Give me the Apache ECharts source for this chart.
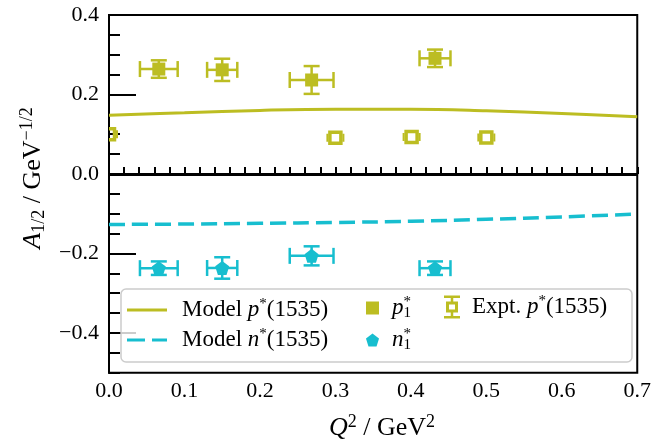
<!DOCTYPE html>
<html><head><meta charset="utf-8">
<script src="https://cdn.jsdelivr.net/npm/echarts@6/dist/echarts.min.js"></script>
<style>html,body{margin:0;padding:0;background:#fff}#c{width:654px;height:445px}</style>
</head><body><div id="c"></div>
<script>
// ---- data ----
const xTickLabels = [0, 0.1, 0.2, 0.3, 0.4, 0.5, 0.6, 0.7];
const yTickLabels = [-0.4, -0.2, 0, 0.2, 0.4];
const modelX = [0, 0.1, 0.2, 0.3, 0.4, 0.5, 0.6, 0.7];
const modelP = [0.148, 0.154, 0.160, 0.163, 0.163, 0.159, 0.152, 0.144];
const modelN = [-0.127, -0.126, -0.124, -0.122, -0.119, -0.114, -0.108, -0.101];
const p1X = [0.066, 0.150, 0.2685, 0.432];
const p1Y = [0.264, 0.262, 0.2365, 0.291];
const p1XErr = [0.025, 0.020, 0.029, 0.0205];
const p1YErr = [0.022, 0.028, 0.035, 0.022];
const n1X = [0.066, 0.150, 0.2685, 0.432];
const n1Y = [-0.237, -0.2365, -0.206, -0.237];
const n1XErr = [0.025, 0.020, 0.029, 0.0205];
const n1YErr = [0.017, 0.027, 0.024, 0.017];
const exptX = [0, 0.300, 0.401, 0.500];
const exptY = [0.100, 0.091, 0.093, 0.092];

// ---- styling ----
const OLIVE = '#bcbd22', CYAN = '#17becf';
const FONT = 'Liberation Serif';
const FS = 22;
const rich = {
  t: {fontFamily: FONT, fontSize: 23, color: '#000', lineHeight: 26},
  i: {fontFamily: FONT, fontSize: 23, fontStyle: 'italic', color: '#000', lineHeight: 26},
  sup: {fontFamily: FONT, fontSize: 15, color: '#000', verticalAlign: 'top', lineHeight: 15},
  supz: {fontFamily: FONT, fontSize: 15, color: '#000', verticalAlign: 'top', lineHeight: 15, width: 0},
  sub: {fontFamily: FONT, fontSize: 15, color: '#000', verticalAlign: 'bottom', lineHeight: 15}
};
const richTitle = {
  t: {fontFamily: FONT, fontSize: 26, color: '#000', lineHeight: 30},
  i: {fontFamily: FONT, fontSize: 26, fontStyle: 'italic', color: '#000', lineHeight: 30},
  sup: {fontFamily: FONT, fontSize: 18, color: '#000', verticalAlign: 'top', lineHeight: 16},
  sub: {fontFamily: FONT, fontSize: 18, color: '#000', verticalAlign: 'bottom', lineHeight: 18}
};
const legendText = {
  mp: '{t|Model }{i|p}{sup|*}{t|(1535)}',
  mn: '{t|Model }{i|n}{sup|*}{t|(1535)}',
  p1: '{i|p}{supz|*}{sub|1}',
  n1: '{i|n}{supz|*}{sub|1}',
  ex: '{t|Expt. }{i|p}{sup|*}{t|(1535)}'
};
const fmtTick = v => {
  const s = Math.abs(v).toFixed(1);
  return v < -1e-9 ? '\u2212' + s : s;
};
const xMinor = [];
for (let k = 0; k <= 35; k++) xMinor.push(+(k * 0.02).toFixed(2));
const yMinor = [];
for (let k = -10; k <= 8; k++) yMinor.push(+(k * 0.05).toFixed(2));

function zip(a, b, c, d) { return a.map((v, i) => c ? [v, b[i], c[i], d[i]] : [v, b[i]]); }

function errRender(color) {
  return function (params, api) {
    const x = api.value(0), y = api.value(1), xe = api.value(2), ye = api.value(3);
    const c = api.coord([x, y]);
    const l = api.coord([x - xe, y]), r = api.coord([x + xe, y]);
    const t = api.coord([x, y + ye]), b = api.coord([x, y - ye]);
    const cap = 8;
    const st = {stroke: color, lineWidth: 2.5, fill: null};
    return {type: 'group', children: [
      {type: 'line', shape: {x1: l[0], y1: c[1], x2: r[0], y2: c[1]}, style: st},
      {type: 'line', shape: {x1: l[0], y1: c[1] - cap, x2: l[0], y2: c[1] + cap}, style: st},
      {type: 'line', shape: {x1: r[0], y1: c[1] - cap, x2: r[0], y2: c[1] + cap}, style: st},
      {type: 'line', shape: {x1: c[0], y1: t[1], x2: c[0], y2: b[1]}, style: st},
      {type: 'line', shape: {x1: c[0] - cap, y1: t[1], x2: c[0] + cap, y2: t[1]}, style: st},
      {type: 'line', shape: {x1: c[0] - cap, y1: b[1], x2: c[0] + cap, y2: b[1]}, style: st}
    ]};
  };
}
function exptRender(params, api) {
  const c = api.coord([api.value(0), api.value(1)]);
  const s = 11;
  const st = {stroke: OLIVE, lineWidth: 2, fill: null};
  return {type: 'group', children: [
    {type: 'rect', shape: {x: c[0] - s / 2, y: c[1] - s / 2, width: s, height: s},
     style: {stroke: OLIVE, lineWidth: 3.5, fill: null}},
    {type: 'line', shape: {x1: c[0] - s / 2 - 2.5, y1: c[1] - 4, x2: c[0] - s / 2 - 2.5, y2: c[1] + 4}, style: st},
    {type: 'line', shape: {x1: c[0] + s / 2 + 2.5, y1: c[1] - 4, x2: c[0] + s / 2 + 2.5, y2: c[1] + 4}, style: st}
  ]};
}

const PENT = 'path://M50,0 L100,38 L81,100 L19,100 L0,38 Z';
const EXPT_ICON = 'path://M0,0H16V2.5H0Z M6.75,2.5H9.25V6H6.75Z M2,6H14V17H2Z M5,9V14H11V9Z M6.75,17H9.25V20.5H6.75Z M0,20.5H16V23H0Z';

function mkLegend(name, left, top, icon, w, h, pad) {
  return {
    left: left, top: top, padding: 0, orient: 'vertical', selectedMode: false,
    itemWidth: w, itemHeight: h,
    itemStyle: {borderWidth: 0, opacity: 1},
    data: [{name: name, icon: icon}],
    formatter: n => legendText[n],
    textStyle: {rich: rich, padding: [0, 0, 0, pad]}
  };
}

const chart = echarts.init(document.getElementById('c'));
chart.setOption({
  animation: false,
  grid: {left: 109, right: 15.5, top: 15, bottom: 72.3, show: true, borderColor: '#000', borderWidth: 2, containLabel: false},
  xAxis: [{
    type: 'value', min: 0, max: 0.7,
    axisLine: {show: true, lineStyle: {color: '#000', width: 2}},
    axisTick: {show: true, inside: true, length: 7, customValues: xMinor, lineStyle: {color: '#000', width: 2}},
    axisLabel: {customValues: xTickLabels, formatter: fmtTick, margin: 8, fontFamily: FONT, fontSize: FS, color: '#000'},
    splitLine: {show: false}
  }],
  yAxis: [{
    type: 'value', min: -0.5, max: 0.4,
    axisLine: {show: true, lineStyle: {color: '#000', width: 2}},
    axisTick: {show: true, inside: true, length: 27, customValues: yTickLabels, lineStyle: {color: '#000', width: 2}},
    axisLabel: {customValues: yTickLabels, formatter: fmtTick, margin: 10, fontFamily: FONT, fontSize: FS, color: '#000'},
    splitLine: {show: false}
  }, {
    type: 'value', min: -0.5, max: 0.4, position: 'left', offset: 0,
    axisLine: {show: false},
    axisTick: {show: true, inside: true, length: 11, customValues: yMinor, lineStyle: {color: '#000', width: 2}},
    axisLabel: {show: false},
    splitLine: {show: false}
  }],
  legend: [
    mkLegend('mp', 127, 297, 'path://M0,0H40V3H0Z', 40, 3, 10),
    mkLegend('mn', 127, 327, 'path://M0,0H18V3H0Z M25,0H40V3H25Z', 40, 3, 10),
    mkLegend('p1', 366, 295, 'rect', 13, 13, 8),
    mkLegend('n1', 366, 327, PENT, 13, 13, 8),
    mkLegend('ex', 444, 294, EXPT_ICON, 16, 23, 7)
  ],
  graphic: [
    {type: 'rect', z: 3, shape: {x: 121, y: 289, width: 511, height: 73, r: 5},
     style: {fill: 'rgba(255,255,255,0.8)', stroke: '#cccccc', lineWidth: 1.5}},
    {type: 'text', x: 382, y: 428,
     style: {text: '{i|Q}{sup|2}{t| / GeV}{sup|2}', rich: richTitle, align: 'center', verticalAlign: 'middle'}},
    {type: 'text', x: 33, y: 178, rotation: Math.PI / 2,
     style: {text: '{i|A}{sub|1/2}{t| / GeV}{sup|\u22121/2}', rich: richTitle, align: 'center', verticalAlign: 'middle'}}
  ],
  series: [
    {name: 'mp', type: 'line', data: zip(modelX, modelP), smooth: 0.4, showSymbol: false,
     itemStyle: {color: OLIVE}, lineStyle: {color: OLIVE, width: 3}, z: 2,
     markLine: {silent: true, symbol: ['none', 'none'], label: {show: false},
       lineStyle: {color: '#000', width: 3, type: 'solid'}, data: [{yAxis: 0}]}},
    {name: 'mn', type: 'line', data: zip(modelX, modelN), smooth: 0.4, showSymbol: false,
     itemStyle: {color: CYAN}, lineStyle: {color: CYAN, width: 3.5, type: [16, 7]}, z: 2},
    {name: 'p1err', type: 'custom', renderItem: errRender(OLIVE), data: zip(p1X, p1Y, p1XErr, p1YErr), itemStyle: {color: OLIVE}, z: 2},
    {name: 'n1err', type: 'custom', renderItem: errRender(CYAN), data: zip(n1X, n1Y, n1XErr, n1YErr), itemStyle: {color: CYAN}, z: 2},
    {name: 'p1', type: 'scatter', data: zip(p1X, p1Y), symbol: 'rect', symbolSize: 13, itemStyle: {color: OLIVE, opacity: 1}, z: 3},
    {name: 'n1', type: 'scatter', data: zip(n1X, n1Y), symbol: PENT, symbolSize: 14, itemStyle: {color: CYAN, opacity: 1}, z: 3},
    {name: 'ex', type: 'custom', renderItem: exptRender, data: zip(exptX, exptY), clip: true, itemStyle: {color: OLIVE}, z: 2}
  ]
});
</script>
</body></html>
